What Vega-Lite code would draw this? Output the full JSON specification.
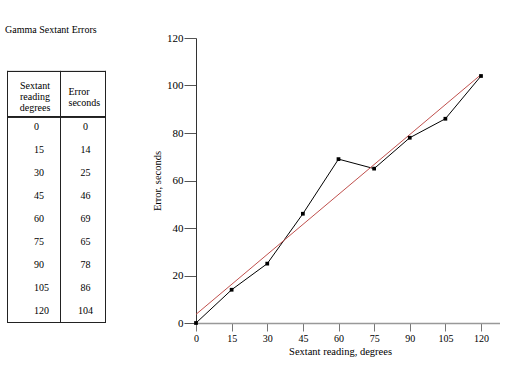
{
  "$schema": "https://vega.github.io/schema/vega-lite/v6.json",
  "background": "white",
  "padding": {"left": 5, "top": 25, "right": 0, "bottom": 0},
  "spacing": 45,
  "config": {
    "font": "Liberation Serif",
    "axis": {"grid": false, "labelColor": "black", "titleColor": "black", "titleFontWeight": "normal", "labelFont": "Liberation Serif", "titleFont": "Liberation Serif"},
    "title": {"font": "Liberation Serif", "fontSize": 10, "fontWeight": "normal", "color": "black"}
  },
  "datasets": {
    "sextant": [
      {"reading": 0, "error": 0},
      {"reading": 15, "error": 14},
      {"reading": 30, "error": 25},
      {"reading": 45, "error": 46},
      {"reading": 60, "error": 69},
      {"reading": 75, "error": 65},
      {"reading": 90, "error": 78},
      {"reading": 105, "error": 86},
      {"reading": 120, "error": 104}
    ]
  },
  "hconcat": [
    {
      "title": {"text": "Gamma Sextant Errors", "anchor": "start", "frame": "group", "offset": 3, "dx": -2},
      "width": 99,
      "height": 285,
      "view": {"stroke": null},
      "data": {"name": "sextant"},
      "layer": [
        {
          "mark": {"type": "rule", "color": "#222222", "strokeWidth": 1, "xOffset": 0.5},
          "encoding": {
            "x": {"datum": "reading", "type": "nominal", "bandPosition": 0, "axis": null,
                  "scale": {"type": "band", "domain": ["reading", "error"], "paddingInner": 0, "paddingOuter": 0}},
            "y": {"datum": "hdr", "type": "ordinal", "bandPosition": 0, "axis": null,
                  "scale": {"type": "band", "domain": ["hdr", "hdr2", 0, 15, 30, 45, 60, 75, 90, 105, 120], "paddingInner": 0, "paddingOuter": 0.72, "align": 1}},
            "y2": {"datum": 120, "bandPosition": 1}
          }
        },
        {
          "mark": {"type": "rule", "color": "#222222", "strokeWidth": 1, "xOffset": -0.5},
          "encoding": {
            "x": {"datum": "error", "type": "nominal", "bandPosition": 1, "axis": null},
            "y": {"datum": "hdr", "type": "ordinal", "bandPosition": 0, "axis": null},
            "y2": {"datum": 120, "bandPosition": 1}
          }
        },
        {
          "mark": {"type": "rule", "color": "#222222", "strokeWidth": 1, "xOffset": 4},
          "encoding": {
            "x": {"datum": "error", "type": "nominal", "bandPosition": 0, "axis": null},
            "y": {"datum": "hdr", "type": "ordinal", "bandPosition": 0, "axis": null},
            "y2": {"datum": 120, "bandPosition": 1}
          }
        },
        {
          "mark": {"type": "rule", "color": "#222222", "strokeWidth": 1, "yOffset": 0.5},
          "encoding": {
            "y": {"datum": "hdr", "type": "ordinal", "bandPosition": 0, "axis": null}
          }
        },
        {
          "mark": {"type": "rule", "color": "#222222", "strokeWidth": 1},
          "encoding": {
            "y": {"datum": 0, "type": "ordinal", "bandPosition": 0, "axis": null}
          }
        },
        {
          "mark": {"type": "rule", "color": "#222222", "strokeWidth": 1, "yOffset": -0.5},
          "encoding": {
            "y": {"datum": 120, "type": "ordinal", "bandPosition": 1, "axis": null}
          }
        },
        {
          "data": {"values": [{"h": "Sextant\nreading\ndegrees"}]},
          "mark": {"type": "text", "fontSize": 10, "lineBreak": "\n", "lineHeight": 11.3, "align": "center", "baseline": "middle", "dx": 28, "dy": -8, "color": "black"},
          "encoding": {
            "text": {"field": "h", "type": "nominal"},
            "x": {"datum": "reading", "type": "nominal", "bandPosition": 0, "axis": null},
            "y": {"datum": "hdr", "type": "ordinal", "bandPosition": 1, "axis": null}
          }
        },
        {
          "data": {"values": [{"h": "Error\nseconds"}]},
          "mark": {"type": "text", "fontSize": 10, "lineBreak": "\n", "lineHeight": 11.3, "align": "left", "baseline": "middle", "dx": 12, "dy": -2, "color": "black"},
          "encoding": {
            "text": {"field": "h", "type": "nominal"},
            "x": {"datum": "error", "type": "nominal", "bandPosition": 0, "axis": null},
            "y": {"datum": "hdr", "type": "ordinal", "bandPosition": 1, "axis": null}
          }
        },
        {
          "mark": {"type": "text", "fontSize": 10, "align": "left", "baseline": "middle", "dx": 27, "dy": -1, "color": "black"},
          "encoding": {
            "text": {"field": "reading", "type": "nominal"},
            "x": {"datum": "reading", "type": "nominal", "bandPosition": 0, "axis": null},
            "y": {"field": "reading", "type": "ordinal", "bandPosition": 0.5, "axis": null}
          }
        },
        {
          "mark": {"type": "text", "fontSize": 10, "align": "center", "baseline": "middle", "dx": 29, "dy": -1, "color": "black"},
          "encoding": {
            "text": {"field": "error", "type": "nominal"},
            "x": {"datum": "error", "type": "nominal", "bandPosition": 0, "axis": null},
            "y": {"field": "reading", "type": "ordinal", "bandPosition": 0.5, "axis": null}
          }
        }
      ]
    },
    {
      "width": 304,
      "height": 285,
      "view": {"stroke": null},
      "data": {"name": "sextant"},
      "encoding": {
        "x": {"field": "reading", "type": "quantitative",
              "scale": {"domain": [0, 128], "nice": false, "zero": true},
              "axis": {"values": [0, 15, 30, 45, 60, 75, 90, 105, 120], "title": "Sextant reading, degrees",
                       "domainColor": "#999999", "domainWidth": 1.5, "tickColor": "#777777", "tickSize": 8,
                       "labelFontSize": 10, "labelPadding": 2, "labelFlush": false, "titleFontSize": 10.5, "titlePadding": 3, "titleX": 144}},
        "y": {"field": "error", "type": "quantitative",
              "scale": {"domain": [0, 120], "nice": false},
              "axis": {"values": [0, 20, 40, 60, 80, 100, 120], "title": "Error, seconds",
                       "domainColor": "#333333", "tickColor": "#555555", "tickSize": 12,
                       "labelFontSize": 11, "labelPadding": 1, "labelFlush": false, "titleFontSize": 10.5, "titlePadding": 4}}
      },
      "layer": [
        {"mark": {"type": "line", "color": "black", "strokeWidth": 1}},
        {
          "transform": [{"regression": "error", "on": "reading", "extent": [0, 120]}],
          "mark": {"type": "line", "color": "#c0504d", "strokeWidth": 1}
        },
        {"mark": {"type": "point", "shape": "square", "filled": true, "size": 14, "color": "black", "opacity": 1}}
      ]
    }
  ]
}
